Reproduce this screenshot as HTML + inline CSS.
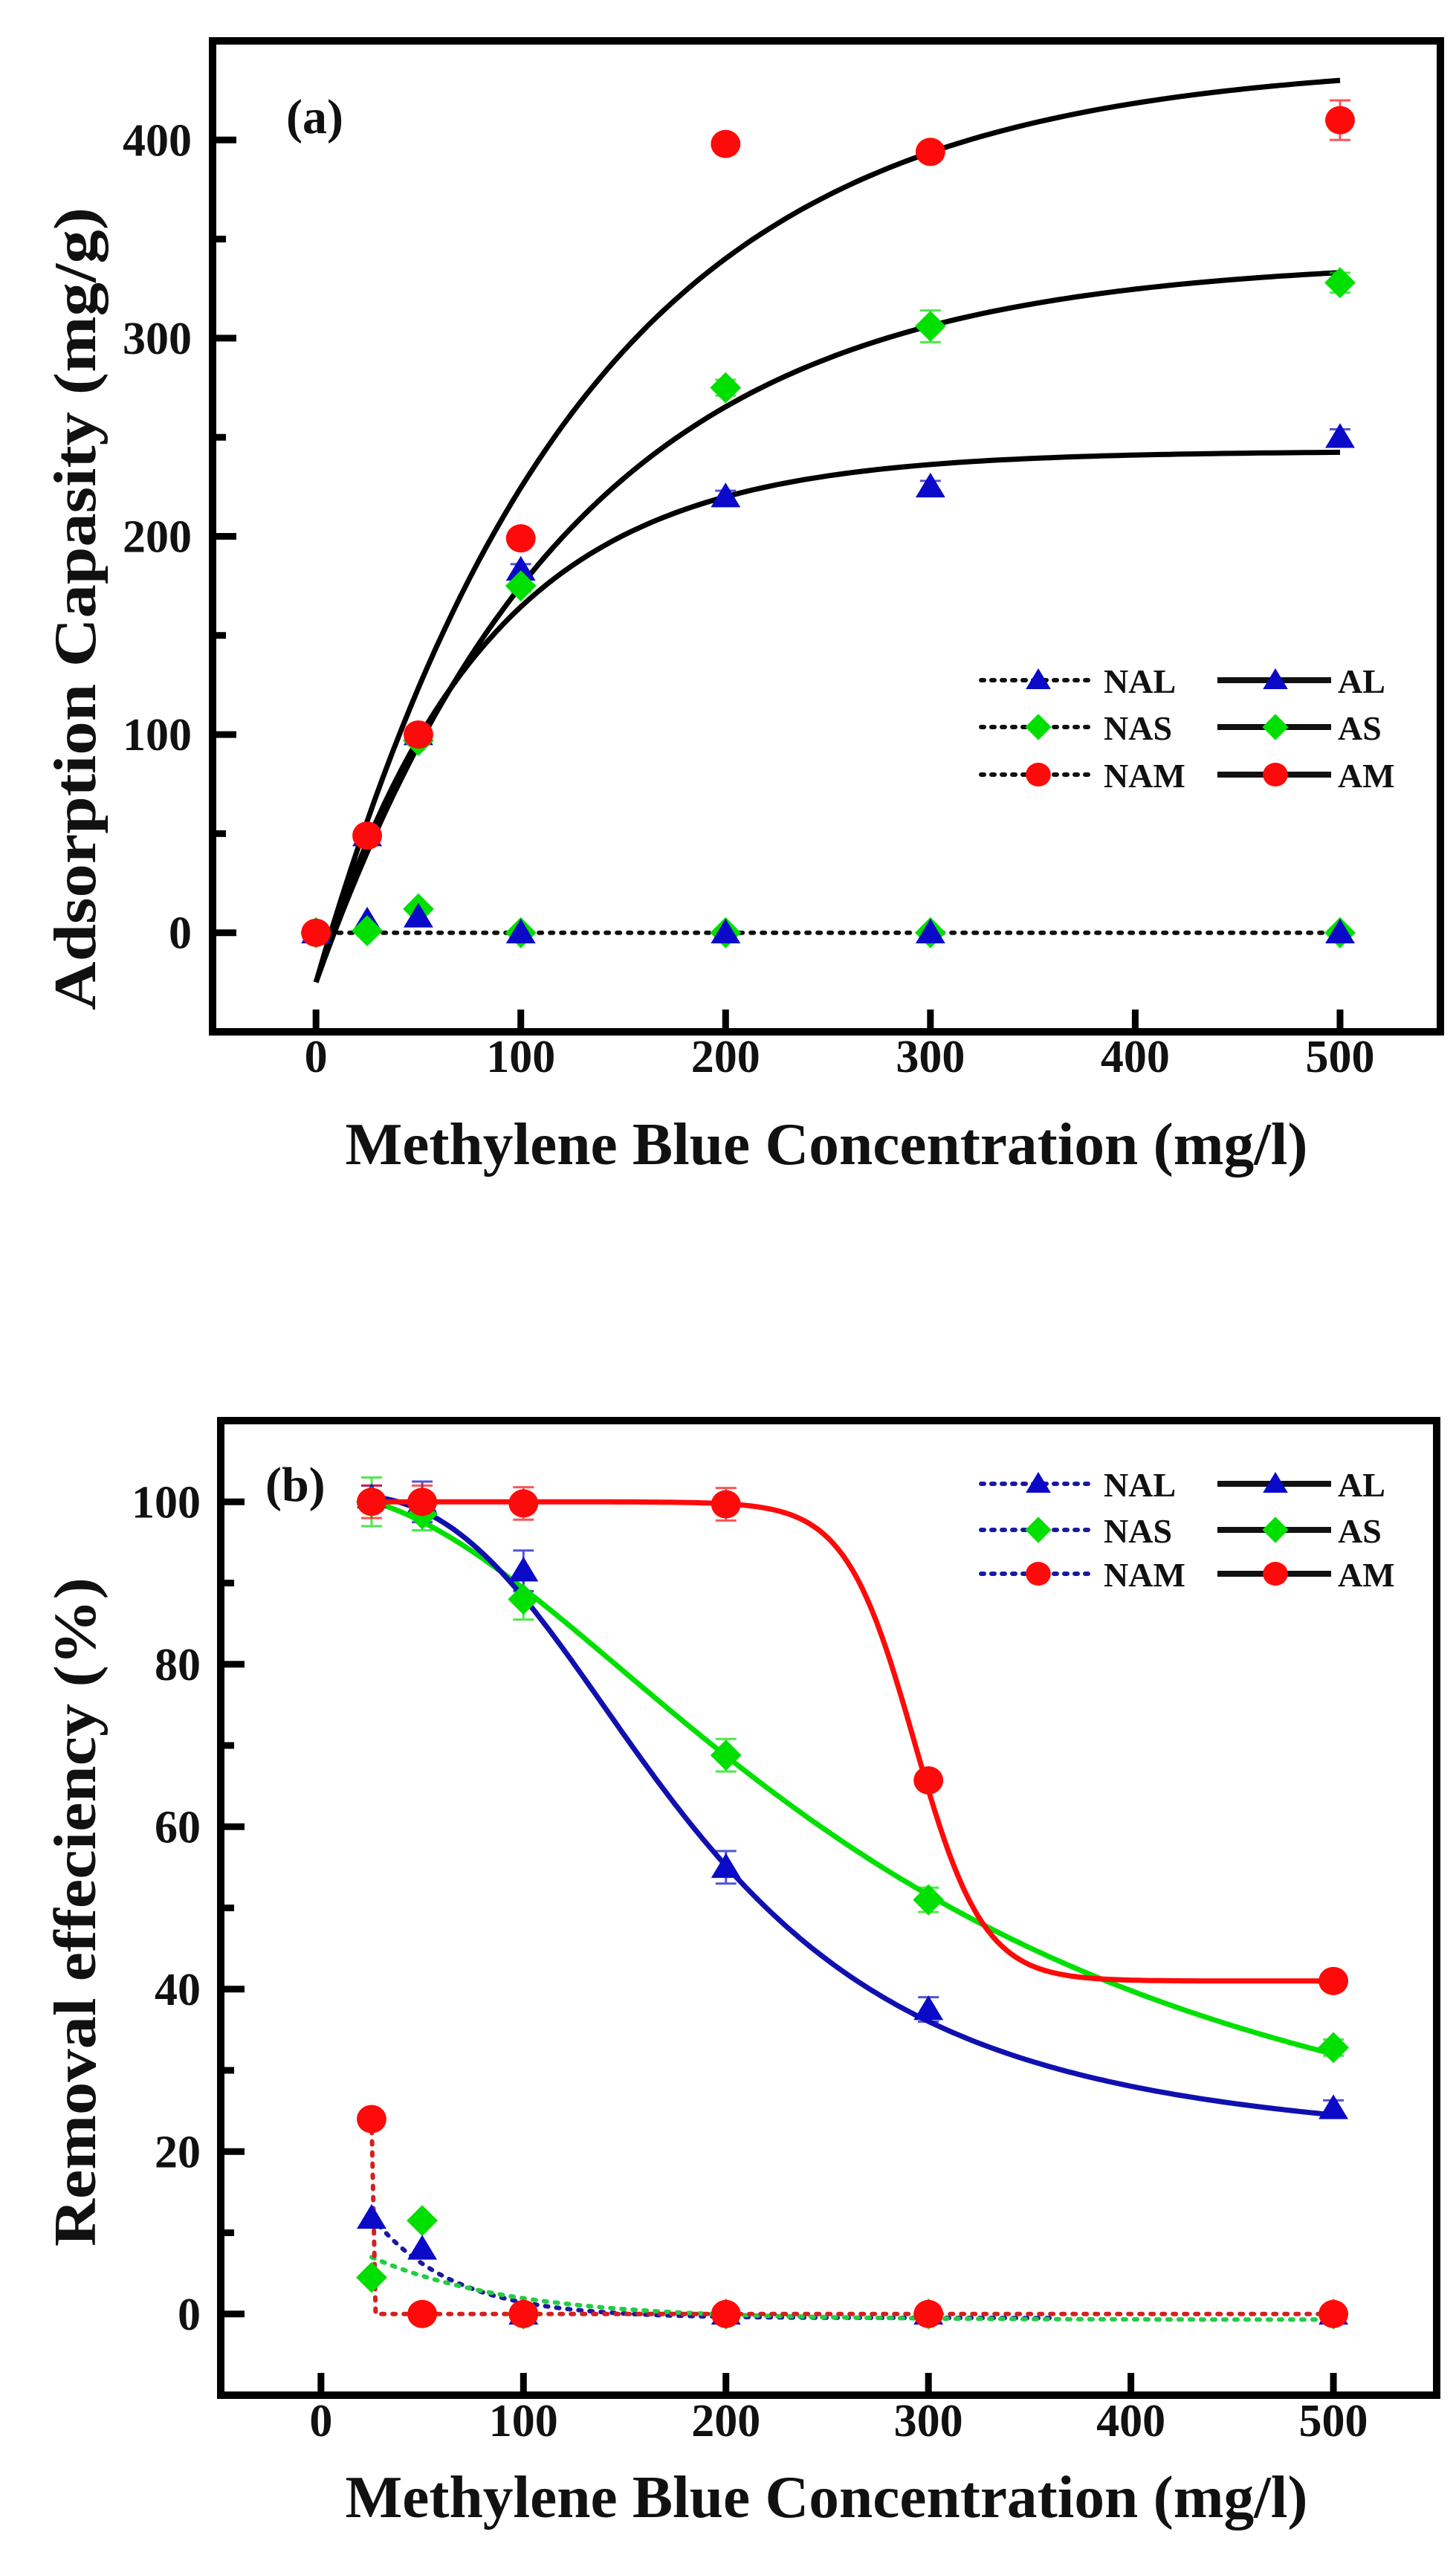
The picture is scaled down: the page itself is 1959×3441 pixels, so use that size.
<!DOCTYPE html>
<html><head><meta charset="utf-8"><style>
html,body{margin:0;padding:0;background:#fff}
svg{display:block}
text{font-family:"Liberation Serif",serif;font-weight:bold;fill:#111}
</style></head><body>
<svg id="fig" width="1959" height="3441" viewBox="0 0 1959 3441" xmlns="http://www.w3.org/2000/svg"></svg>
<script>
// ---------- data: panel (a) ----------
const concA = [0, 25, 50, 100, 200, 300, 500];
const amA = [0, 49, 100, 199, 398, 394, 410];
const amAErr = [0, 2, 2, 3, 3, 3, 10];
const asA = [0, 1, 97, 175, 275, 306, 328];
const asAErr = [0, 1, 2, 3, 4, 8, 5];
const alA = [0, 49, 100, 183, 220, 225, 250];
const alAErr = [0, 1, 2, 3, 3, 3, 4];
const nalA = [0, 6, 8, 0, 0, 0, 0];
const nasA = [0, 1, 12, 0, 0, 0, 0];
const namA = [0, 0, 0, 0, 0, 0, 0];
// fit parameters (offset, amplitude, rate)
const fitAM_A = [-25, 465, 130];
const fitAS_A = [-25, 365, 126];
const fitAL_A = [-25, 268, 81.5];
const yTicksA = [0, 100, 200, 300, 400];
const xTicks = [0, 100, 200, 300, 400, 500];

// ---------- data: panel (b) ----------
const concB = [25, 50, 100, 200, 300, 500];
const amB = [100, 100, 99.8, 99.7, 65.7, 41];
const amBErr = [2, 2, 2, 2, 1, 1];
const asB = [100, 98.5, 88, 68.8, 51, 32.8];
const asBErr = [3, 2, 2.5, 2, 1.5, 1];
const alB = [100.5, 100, 91.5, 55, 37.5, 25.3];
const alBErr = [1.5, 2.5, 2.5, 2, 1.5, 1];
const namB = [24, 0, 0, 0, 0, 0];
const nasB = [4.5, 11.5, 0, 0, 0, 0];
const nalB = [11.8, 8, 0, 0, 0, 0];
const fitAM_B = [100, 41, 293, 17];      // Boltzmann A1,A2,x0,dx
const fitAS_B = [101, 10, 274, 1.9];     // log-logistic A1,A2,x0,p
const fitAL_B = [101, 20, 182, 2.8];
const fitNAL_B = [-0.5, 12.5, 40];
const fitNAS_B = [-0.7, 7.7, 70];
const yTicksB = [0, 20, 40, 60, 80, 100];

const BLUE = '#0a0ac8', GREEN = '#00e000', RED = '#ff0a0a';
const NS = 'http://www.w3.org/2000/svg';
const svg = document.getElementById('fig');
function mk(tag, attrs, parent) {
  const e = document.createElementNS(NS, tag);
  for (const k in attrs) e.setAttribute(k, attrs[k]);
  (parent || svg).appendChild(e);
  return e;
}
function marker(g, shape, cx, cy, color, s) {
  let e;
  if (shape === 'tri') e = mk('polygon', {points: `${cx},${cy - s} ${cx - s * 1.05},${cy + s * 0.75} ${cx + s * 1.05},${cy + s * 0.75}`, fill: color}, g);
  else if (shape === 'dia') e = mk('polygon', {points: `${cx},${cy - s * 1.1} ${cx + s * 1.1},${cy} ${cx},${cy + s * 1.1} ${cx - s * 1.1},${cy}`, fill: color}, g);
  else e = mk('ellipse', {cx: cx, cy: cy, rx: s * 1.05, ry: s, fill: color}, g);
  return e;
}

function panel(cfg) {
  const g = mk('g', {});
  
  
  const X = v => cfg.x0 + (v - cfg.xmin) / (cfg.xmax - cfg.xmin) * (cfg.x1 - cfg.x0);
  const Y = v => cfg.y1 - (v - cfg.ymin) / (cfg.ymax - cfg.ymin) * (cfg.y1 - cfg.y0);
  const fr = mk('rect', {x: cfg.x0, y: cfg.y0, width: cfg.x1 - cfg.x0, height: cfg.y1 - cfg.y0, fill: 'none', stroke: '#000', 'stroke-width': 10}, g);
  
  
  cfg.xTicks.forEach(t => {
    const l = mk('line', {x1: X(t), x2: X(t), y1: cfg.y1, y2: cfg.y1 - 30, stroke: '#000', 'stroke-width': 9}, g);
    
    
    const tx = mk('text', {x: X(t), y: cfg.xLabY, 'text-anchor': 'middle', 'font-size': 62}, g);
    tx.textContent = t;
    
    
  });
  for (let v = cfg.ymin; v <= cfg.ymax; v += cfg.minor) {
    const major = cfg.yTicks.includes(v);
    if (v === cfg.ymin) continue;
    const l = mk('line', {x1: cfg.x0, x2: cfg.x0 + (major ? 32 : 18), y1: Y(v), y2: Y(v), stroke: '#000', 'stroke-width': 9}, g);
    
    
  }
  cfg.yTicks.forEach(t => {
    const tx = mk('text', {x: cfg.yLabX, y: Y(t) + 21, 'text-anchor': 'end', 'font-size': 62}, g);
    tx.textContent = t;
    
    
  });
  const xt = mk('text', {x: 1112, y: cfg.xTitleY + 26, 'text-anchor': 'middle', 'font-size': 80, textLength: 1295, lengthAdjust: 'spacingAndGlyphs'}, g);
  xt.textContent = 'Methylene Blue Concentration (mg/l)';
  
  
  const yt = mk('text', {x: 0, y: 0, 'text-anchor': 'middle', 'font-size': 80, textLength: cfg.yTitleLen, lengthAdjust: 'spacingAndGlyphs', transform: `translate(${cfg.yTitleX + 28},${cfg.yTitleY}) rotate(-90)`}, g);
  yt.textContent = cfg.yTitle;
  
  
  const pl = mk('text', {x: cfg.lblX, y: cfg.lblY + 22, 'font-size': 66}, g);
  pl.textContent = cfg.lbl;
  
  
  return {g, X, Y};
}

function pathFrom(fn, a, b, X, Y, n) {
  let d = '';
  for (let i = 0; i <= n; i++) { const x = a + (b - a) * i / n; d += (i ? 'L' : 'M') + X(x).toFixed(1) + ',' + Y(fn(x)).toFixed(1); }
  return d;
}
function errorBars(g, xs, ys, es, X, Y, color, name) {
  xs.forEach((x, i) => {
    if (!es[i]) return;
    const e = mk('path', {d: `M${X(x)},${Y(ys[i] - es[i])}V${Y(ys[i] + es[i])}M${X(x) - 14},${Y(ys[i] + es[i])}h28M${X(x) - 14},${Y(ys[i] - es[i])}h28`, stroke: color, 'stroke-width': 3, fill: 'none', opacity: 0.7}, g);
    
    
  });
}
function points(g, xs, ys, X, Y, shape, color, name, s) {
  xs.forEach((x, i) => {
    const m = marker(g, shape, X(x), Y(ys[i]), color, s || 19);
    
    
  });
}
function legend(g, rows, y) {
  rows.forEach((r, i) => {
    const yy = y[i];
    const d = mk('line', {x1: 1320, x2: 1467, y1: yy, y2: yy, stroke: r[3], 'stroke-width': 6, 'stroke-dasharray': '4 10', 'stroke-linecap': 'round'}, g);
    
    
    let m = marker(g, r[1], 1397, yy, r[2], 16);
    
    
    let t = mk('text', {x: 1485, y: yy + 17, 'font-size': 46}, g);
    t.textContent = r[0];
    
    
    const s = mk('line', {x1: 1638, x2: 1791, y1: yy, y2: yy, stroke: r[5], 'stroke-width': 8}, g);
    
    
    m = marker(g, r[1], 1716, yy, r[2], 16);
    
    
    t = mk('text', {x: 1800, y: yy + 17, 'font-size': 46}, g);
    t.textContent = r[4];
    
    
  });
}

// ===== Panel (a) =====
(function () {
  const p = panel({name: 'panel-a-adsorption-capacity', x0: 286, x1: 1938, y0: 55, y1: 1388, xmin: -50.5, xmax: 549, ymin: -50, ymax: 450,
    xTicks: xTicks, yTicks: yTicksA, minor: 50, xLabY: 1442, yLabX: 258, xTitleY: 1540,
    yTitle: 'Adsorption Capasity (mg/g)', yTitleX: 100, yTitleY: 819, yTitleLen: 1080, lbl: '(a)', lblX: 385, lblY: 157});
  const {g, X, Y} = p;
  const dot = mk('line', {x1: X(0), x2: X(500), y1: Y(namA[0]), y2: Y(namA[6]), stroke: '#111', 'stroke-width': 6, 'stroke-dasharray': '4 11', 'stroke-linecap': 'round'}, g);
  
  
  [[fitAM_A, 'am'], [fitAS_A, 'as'], [fitAL_A, 'al']].forEach(([f, n]) => {
    const c = mk('path', {d: pathFrom(x => f[0] + f[1] * (1 - Math.exp(-x / f[2])), 0, 500, X, Y, 120), stroke: '#000', 'stroke-width': 7, fill: 'none'}, g);
    
    
  });
  errorBars(g, concA, amA, amAErr, X, Y, RED, 'am');
  errorBars(g, concA, asA, asAErr, X, Y, GREEN, 'as');
  errorBars(g, concA, alA, alAErr, X, Y, BLUE, 'al');
  points(g, concA, nasA, X, Y, 'dia', GREEN, 'nas');
  points(g, concA, nalA, X, Y, 'tri', BLUE, 'nal');
  points(g, concA, alA, X, Y, 'tri', BLUE, 'al');
  points(g, concA, asA, X, Y, 'dia', GREEN, 'as');
  points(g, concA, amA, X, Y, 'circ', RED, 'am');
  legend(g, [['NAL', 'tri', BLUE, '#111', 'AL', '#111'], ['NAS', 'dia', GREEN, '#111', 'AS', '#111'], ['NAM', 'circ', RED, '#111', 'AM', '#111']], [915, 978, 1042]);
})();

// ===== Panel (b) =====
(function () {
  const p = panel({name: 'panel-b-removal-efficiency', x0: 297, x1: 1933, y0: 1911, y1: 3222, xmin: -49.5, xmax: 551, ymin: -10, ymax: 110,
    xTicks: xTicks, yTicks: yTicksB, minor: 10, xLabY: 3277, yLabX: 270, xTitleY: 3360,
    yTitle: 'Removal effeciency (%)', yTitleX: 100, yTitleY: 2572, yTitleLen: 900, lbl: '(b)', lblX: 357, lblY: 1997});
  const {g, X, Y} = p;
  const dots = [
    [x => fitNAL_B[0] + fitNAL_B[1] * Math.exp(-(x - 25) / fitNAL_B[2]), 25, 360, '#1a1aa0', 'nal'],
    [x => fitNAS_B[0] + fitNAS_B[1] * Math.exp(-(x - 25) / fitNAS_B[2]), 25, 500, '#22cc44', 'nas']];
  dots.forEach(([fn, a, b, c, n]) => {
    const d = mk('path', {d: pathFrom(fn, a, b, X, Y, 100), stroke: c, 'stroke-width': 6, fill: 'none', 'stroke-dasharray': '4 11', 'stroke-linecap': 'round'}, g);
    
    
  });
  const nd = mk('path', {d: `M${X(concB[0])},${Y(namB[0])}L${X(concB[0] + 2)},${Y(namB[1])}L${X(500)},${Y(namB[5])}`, stroke: '#d42020', 'stroke-width': 6, fill: 'none', 'stroke-dasharray': '4 11', 'stroke-linecap': 'round'}, g);
  
  
  const curves = [
    [x => fitAS_B[1] + (fitAS_B[0] - fitAS_B[1]) / (1 + Math.pow(x / fitAS_B[2], fitAS_B[3])), GREEN, 'as'],
    [x => fitAL_B[1] + (fitAL_B[0] - fitAL_B[1]) / (1 + Math.pow(x / fitAL_B[2], fitAL_B[3])), '#1010b0', 'al'],
    [x => fitAM_B[1] + (fitAM_B[0] - fitAM_B[1]) / (1 + Math.exp((x - fitAM_B[2]) / fitAM_B[3])), RED, 'am']];
  curves.forEach(([fn, c, n]) => {
    const d = mk('path', {d: pathFrom(fn, 25, 500, X, Y, 200), stroke: c, 'stroke-width': 7, fill: 'none'}, g);
    
    
  });
  errorBars(g, concB, asB, asBErr, X, Y, GREEN, 'as');
  errorBars(g, concB, alB, alBErr, X, Y, BLUE, 'al');
  errorBars(g, concB, amB, amBErr, X, Y, RED, 'am');
  points(g, concB, nasB, X, Y, 'dia', GREEN, 'nas');
  points(g, concB, nalB, X, Y, 'tri', BLUE, 'nal');
  points(g, concB, namB, X, Y, 'circ', RED, 'nam');
  points(g, concB, alB, X, Y, 'tri', BLUE, 'al');
  points(g, concB, asB, X, Y, 'dia', GREEN, 'as');
  points(g, concB, amB, X, Y, 'circ', RED, 'am');
  legend(g, [['NAL', 'tri', BLUE, '#1a1aa0', 'AL', '#111'], ['NAS', 'dia', GREEN, '#1a1aa0', 'AS', '#111'], ['NAM', 'circ', RED, '#1a1aa0', 'AM', '#111']], [1996, 2058, 2117]);
})();
</script>
</body></html>
